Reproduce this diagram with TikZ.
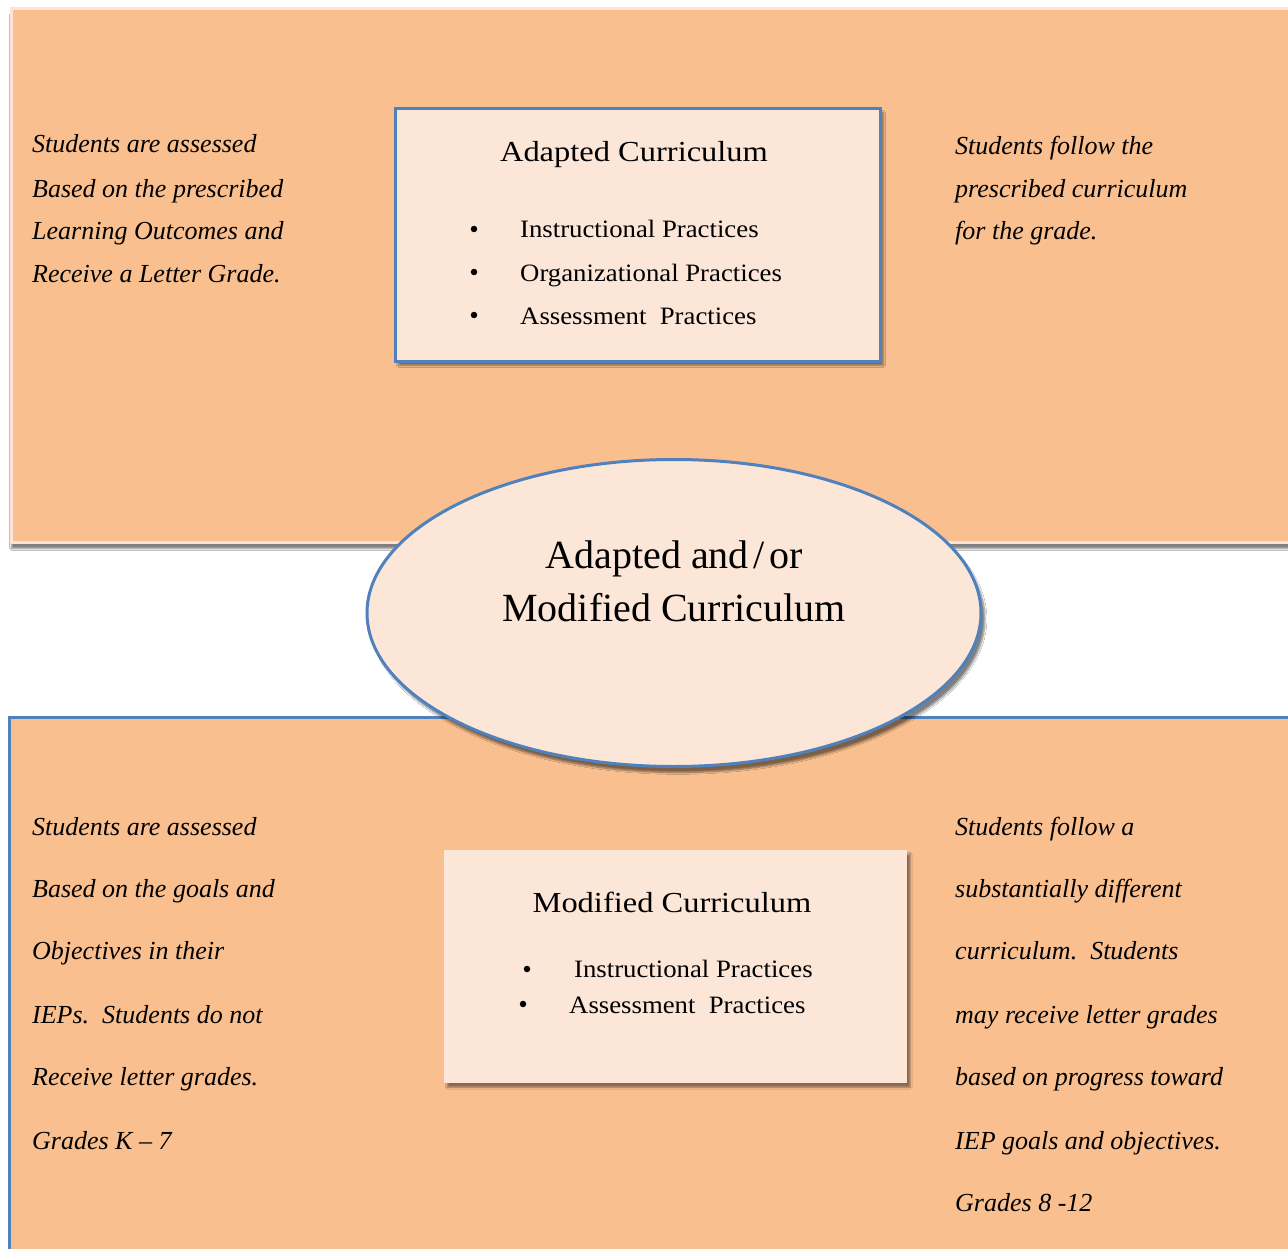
\documentclass[tikz,border=0pt]{standalone}
\usepackage{fontspec}
\setmainfont{Liberation Serif}
\newfontfamily\titlefont[FakeStretch=1.12]{Liberation Serif}
\newfontfamily\itemfont[FakeStretch=1.07]{Liberation Serif}
\usetikzlibrary{shapes.geometric,shadows.blur}

\definecolor{panelfill}{HTML}{F9BF8F}
\definecolor{palefill}{HTML}{FCE6D8}
\definecolor{edgeblue}{HTML}{4F81BD}
\definecolor{rimpink}{HTML}{FDE3D3}

\tikzset{
  panel/.style={rectangle, fill=panelfill, inner sep=0pt, anchor=north west},
  card/.style={rectangle, fill=palefill, inner sep=0pt, anchor=north west,
    blur shadow={shadow xshift=3pt, shadow yshift=-4pt, shadow blur steps=6, shadow opacity=45}},
  note/.style={inner sep=0pt, anchor=base west, font=\fontsize{26}{30}\selectfont\itshape},
  head/.style={inner sep=0pt, anchor=base, font=\titlefont\fontsize{29}{34}\selectfont},
  item/.style={inner sep=0pt, anchor=base west, font=\itemfont\fontsize{25}{30}\selectfont},
  dot/.style={circle, fill=black, inner sep=0pt, minimum size=6.5pt},
  hubtext/.style={inner sep=0pt, anchor=base, font=\fontsize{40}{46}\selectfont},
}

\begin{document}
\begin{tikzpicture}[x=1pt,y=-1pt]
\useasboundingbox (0,0) rectangle (1288,1249);
\fill[white] (0,0) rectangle (1288,1249);

% upper and lower panels
\node[panel, draw=rimpink, line width=3pt, minimum width=1300pt, minimum height=534pt,
  blur shadow={shadow xshift=0pt, shadow yshift=-6pt, shadow blur steps=6, shadow opacity=50}]
  (top) at (10,7) {};
\node[panel, draw=edgeblue, line width=3pt, minimum width=1300pt, minimum height=560pt]
  (bottom) at (8,716) {};

% upper card
\node[card, draw=edgeblue, line width=3pt, minimum width=485pt, minimum height=253pt]
  (adapted) at (394,107) {};
\node[head] (adaptedtitle) at (634,162) {Adapted Curriculum};
\node[dot] (b1) at (474,229) {};
\node[dot] (b2) at (474,272) {};
\node[dot] (b3) at (474,315) {};
\node[item] (i1) at (520,238) {Instructional Practices};
\node[item] (i2) at (520,282) {Organizational Practices};
\node[item] (i3) at (520,325) {Assessment\ \ Practices};

% central ellipse
\node[ellipse, fill=palefill, draw=edgeblue, line width=3pt, minimum width=614pt, minimum height=307pt,
  blur shadow={shadow xshift=4pt, shadow yshift=-6pt, shadow blur steps=6, shadow opacity=50}]
  (hub) at (674,613) {};
\node[hubtext] (hub1) at (674,568) {Adapted and\hspace{5pt}/\hspace{4pt}or};
\node[hubtext] (hub2) at (674,621) {Modified Curriculum};

% lower card
\node[card, minimum width=463pt, minimum height=233pt] (modified) at (444,850) {};
\node[head] (modifiedtitle) at (672,912) {Modified Curriculum};
\node[dot] (m1) at (527,969) {};
\node[dot] (m2) at (523,1004) {};
\node[item] (j1) at (574,977) {Instructional Practices};
\node[item] (j2) at (569,1013) {Assessment\ \ Practices};

% upper side notes
\node[note] (tl1) at (32,153) {Students are assessed};
\node[note] (tl2) at (32,198) {Based on the prescribed};
\node[note] (tl3) at (32,240) {Learning Outcomes and};
\node[note] (tl4) at (32,283) {Receive a Letter Grade.};
\node[note] (tr1) at (955,155) {Students follow the};
\node[note] (tr2) at (955,198) {prescribed curriculum};
\node[note] (tr3) at (955,240) {for the grade.};

% lower side notes
\node[note] (bl1) at (32,835) {Students are assessed};
\node[note] (bl2) at (32,897) {Based on the goals and};
\node[note] (bl3) at (32,959) {Objectives in their};
\node[note] (bl4) at (32,1023) {IEPs.\ \ Students do not};
\node[note] (bl5) at (32,1085) {Receive letter grades.};
\node[note] (bl6) at (32,1149) {Grades K – 7};
\node[note] (br1) at (955,835) {Students follow a};
\node[note] (br2) at (955,897) {substantially different};
\node[note] (br3) at (955,959) {curriculum.\ \ Students};
\node[note] (br4) at (955,1023) {may receive letter grades};
\node[note] (br5) at (955,1085) {based on progress toward};
\node[note] (br6) at (955,1149) {IEP goals and objectives.};
\node[note] (br7) at (955,1211) {Grades 8 -12};
\end{tikzpicture}
\end{document}
